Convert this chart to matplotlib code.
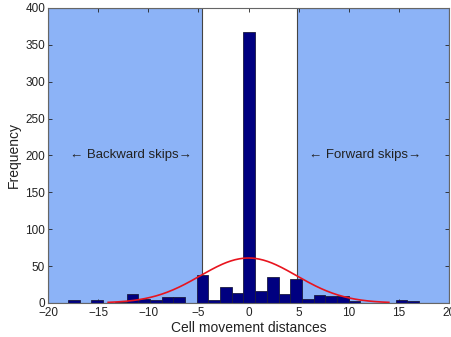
import matplotlib
matplotlib.use('Agg')
import matplotlib.pyplot as plt
import numpy as np

plt.rcParams['font.family'] = ['Liberation Sans', 'DejaVu Sans']

# histogram: 30 bins between the min and max distance
bin_lo, bin_hi, n_bins = -18.0, 17.0, 30
counts = [4, 0, 4, 0, 2, 12, 6, 4, 8, 8,
          0, 38, 4, 22, 13, 368, 16, 35, 12, 32,
          6, 11, 10, 10, 3, 0, 0, 0, 4, 3]

# fitted normal curve
fit_mu, fit_sigma, fit_peak = 0.0, 4.8, 61.0
fit_lo, fit_hi = -14.0, 14.0

# skip regions
back_region = (-20, -4.6)
fwd_region = (4.8, 20)

xticks = [-20, -15, -10, -5, 0, 5, 10, 15, 20]
yticks = [0, 50, 100, 150, 200, 250, 300, 350, 400]

fig = plt.figure(figsize=(4.51, 3.37), dpi=100)
ax = fig.add_axes([0.1064, 0.1009, 0.8892, 0.8754])

shade = '#8cb3f7'
ax.axvspan(*back_region, facecolor=shade, edgecolor='#444444', lw=0.8, zorder=0)
ax.axvspan(*fwd_region, facecolor=shade, edgecolor='#444444', lw=0.8, zorder=0)

edges = np.linspace(bin_lo, bin_hi, n_bins + 1)
ax.bar(edges[:-1], counts, width=np.diff(edges), align='edge',
       color='#000080', edgecolor='#1a1a40', lw=0.6, zorder=2)

xf = np.linspace(fit_lo, fit_hi, 200)
yf = fit_peak * np.exp(-(xf - fit_mu) ** 2 / (2 * fit_sigma ** 2))
ax.plot(xf, yf, color='#e8141e', lw=1.2, zorder=3)

arrow_font = ['DejaVu Sans']
ax.text(-11.7, 200, '\u2190 Backward skips\u2192', ha='center', va='center',
        fontsize=9.5, color='#222222')
ax.text(11.6, 200, '\u2190 Forward skips\u2192', ha='center', va='center',
        fontsize=9.5, color='#222222')

ax.set_xlim(-20, 20)
ax.set_ylim(0, 400)
ax.set_xticks(xticks)
ax.set_yticks(yticks)
ax.tick_params(direction='in', length=3, width=0.6, top=True, right=True,
               labelsize=8.5, colors='#222222', pad=2)
ax.tick_params(axis='x', pad=3)
for s in ax.spines.values():
    s.set_color('#666666')
    s.set_linewidth(0.8)

ax.set_xlabel('Cell movement distances', fontsize=10, color='#222222', labelpad=1)
ax.set_ylabel('Frequency', fontsize=10, color='#222222', labelpad=3)

fig.savefig('out.png', dpi=100)
